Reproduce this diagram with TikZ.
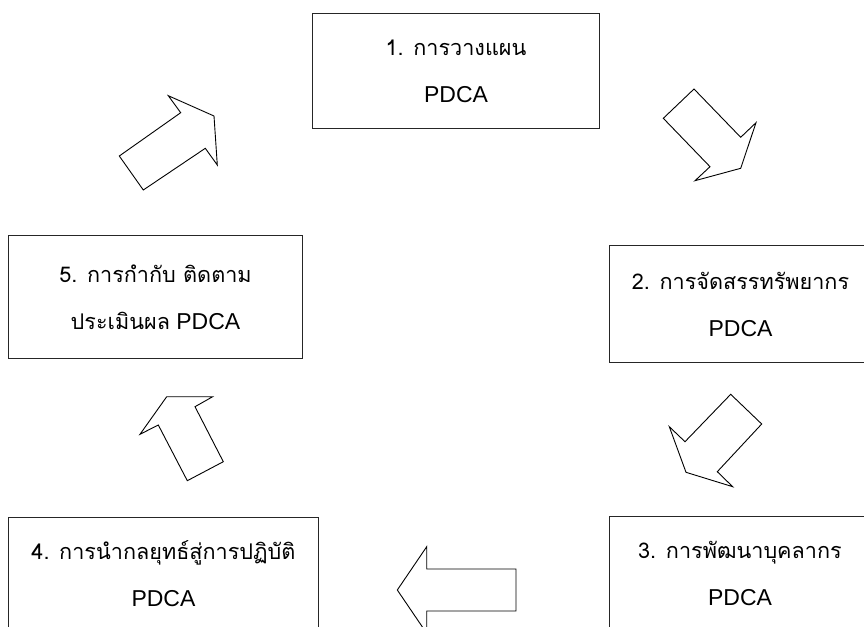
\documentclass[tikz,border=0pt]{standalone}
\usepackage{fontspec}
\setmainfont{Liberation Sans}
\newfontfamily\thaifont[Script=Thai,Scale=0.94]{Loma}
\usetikzlibrary{positioning}

\begin{document}
\begin{tikzpicture}[x=1pt, y=-1pt,
  font=\fontsize{23}{47}\selectfont,
  box/.style={draw=black!85, line width=1pt, fill=white, align=center,
              anchor=north west, inner sep=0pt},
  blockarrow/.style={draw=black, line width=0.9pt, fill=white, line join=miter}
]
\useasboundingbox (0,0) rectangle (864,626);
\clip (0,0) rectangle (864,626);

% the five steps
\node[box, minimum width=287, minimum height=115] (plan)    at (312,13)
  {{\thaifont 1. การวางแผน}\\PDCA};
\node[box, minimum width=262, minimum height=117] (alloc)   at (609,245)
  {{\thaifont 2. การจัดสรรทรัพยากร}\\PDCA};
\node[box, minimum width=261, minimum height=114] (develop) at (609,516)
  {{\thaifont 3. การพัฒนาบุคลากร}\\PDCA};
\node[box, minimum width=310, minimum height=113] (deploy)  at (8,517)
  {{\thaifont 4. การนำกลยุทธ์สู่การปฏิบัติ}\\PDCA};
\node[box, minimum width=294, minimum height=123] (monitor) at (8,235)
  {{\thaifont 5. การกำกับ ติดตาม}\\{\thaifont ประเมินผล} PDCA};

% block arrows between the steps
\draw[blockarrow] (694,89) -- (663.3,118.3) -- (710,166.7) -- (695,180.7)
  -- (740.7,168.3) -- (756,122.7) -- (740.7,137.3) -- cycle;
\draw[blockarrow] (730.7,394.3) -- (761.7,424) -- (717.3,471.7) -- (732.7,486.7)
  -- (686,472.3) -- (669.3,426.7) -- (685,441.7) -- cycle;
\draw[blockarrow] (397.3,590) -- (426.7,546.7) -- (426.7,569) -- (516,569)
  -- (516,611) -- (426.7,611) -- (426.7,633.3) -- cycle;
\draw[blockarrow] (166.7,396.7) -- (212.7,396.7) -- (195,406.7) -- (223.3,461.7)
  -- (187.3,480.7) -- (158.3,425) -- (140,434.3) -- cycle;
\draw[blockarrow] (119.3,156) -- (180.7,112.7) -- (168.3,95.7) -- (214,116)
  -- (217.3,165) -- (205.3,148.3) -- (143.3,190) -- cycle;
\end{tikzpicture}
\end{document}
